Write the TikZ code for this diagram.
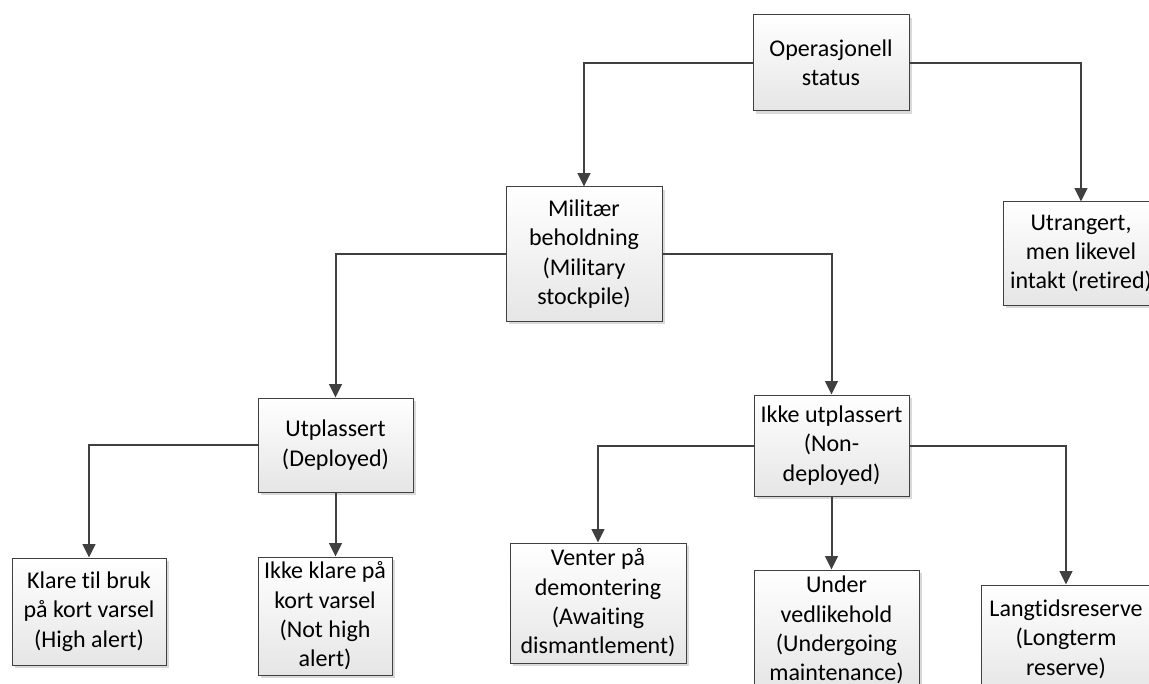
\documentclass[tikz,border=0pt]{standalone}
\usepackage{fontspec}
\setmainfont{Carlito}[Ligatures=CommonOff]
\usetikzlibrary{arrows.meta,shadows}
\definecolor{ln}{HTML}{404040}
\begin{document}
\begin{tikzpicture}[x=0.75pt,y=-0.75pt,
  box/.style={draw=ln, line width=0.75pt, top color=white, bottom color=black!10,
    drop shadow={shadow xshift=2.2pt,shadow yshift=-2.2pt,fill=black!15,opacity=1},
    align=center, inner sep=0pt, text=black, font=\fontsize{18}{22}\selectfont},
  conn/.style={draw=ln, line width=1.5pt, -{Triangle[length=10pt,width=9.5pt]}}]
\useasboundingbox (0,0) rectangle (1149,684);
\clip (0,0) rectangle (1149,684);

\node[box, minimum width=117pt, minimum height=72pt] (top) at (831,63) {Operasjonell\\status};
\node[box, minimum width=117pt, minimum height=100.5pt] (mil) at (584,254) {Militær\\beholdning\\(Military\\stockpile)};
\node[box, minimum width=117pt, minimum height=77.25pt] (utr) at (1081,253.5) {Utrangert,\\men likevel\\intakt (retired)};
\node[box, minimum width=116.25pt, minimum height=70.5pt] (utp) at (335.5,445) {Utplassert\\(Deployed)};
\node[box, minimum width=116.25pt, minimum height=75.75pt] (ikke) at (831.5,445.5) {Ikke utplassert\\(Non-\\deployed)};
\node[box, minimum width=115.5pt, minimum height=80.25pt] (klare) at (89,611.5) {Klare til bruk\\på kort varsel\\(High alert)};
\node[box, minimum width=100.5pt, minimum height=88.5pt] (ikkeklare) at (325,616) {Ikke klare på\\kort varsel\\(Not high\\alert)};
\node[box, minimum width=132pt, minimum height=90pt] (venter) at (598,603) {Venter på\\demontering\\(Awaiting\\dismantlement)};
\node[box, minimum width=123.75pt, minimum height=90pt] (under) at (836.5,630) {Under\\vedlikehold\\(Undergoing\\maintenance)};
\node[box, minimum width=127.5pt, minimum height=82.5pt] (lang) at (1066,640) {\raisebox{5pt}{\begin{tabular}{@{}c@{}}Langtidsreserve\\(Longterm\\reserve)\end{tabular}}};

\draw[conn] (top.west) -| (mil.north);
\draw[conn] (top.east) -| (utr.north);
\draw[conn] (mil.west) -| (utp.north);
\draw[conn] (mil.east) -| (ikke.north);
\draw[conn] (utp.west) -| (klare.north);
\draw[conn] (utp.south) -- (utp.south |- ikkeklare.north);
\draw[conn] (ikke.west) -| (venter.north);
\draw[conn] (ikke.south) -- (ikke.south |- under.north);
\draw[conn] (ikke.east) -| (lang.north);
\end{tikzpicture}
\end{document}
